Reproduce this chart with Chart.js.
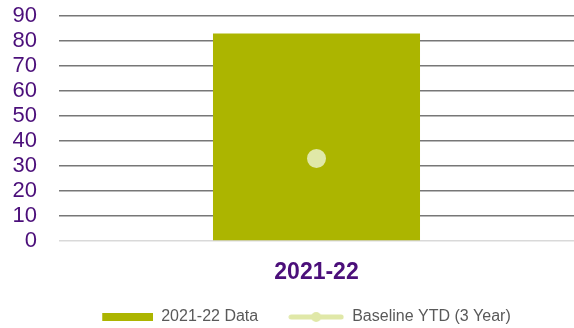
<!DOCTYPE html>
<html><head><meta charset="utf-8">
<script src="https://cdn.jsdelivr.net/npm/chart.js@4/dist/chart.umd.min.js"></script>
<style>html,body{margin:0;padding:0;background:#fff}#wrap{width:574px;height:328px}</style>
</head><body><div id="wrap"><canvas id="c" width="574" height="328"></canvas></div>
<script>
const categories = ["2021-22"];
const dataValues = [83];
const baselineValues = [33];
const yTicks = [0,10,20,30,40,50,60,70,80,90];

function mkBox(){const c=document.createElement('canvas');c.width=56;c.height=10;const x=c.getContext('2d');x.fillStyle='#acb500';x.fillRect(5,1,51,8);return c;}
function mkLine(){const c=document.createElement('canvas');c.width=56;c.height=12;const x=c.getContext('2d');x.strokeStyle='#e0e8a8';x.lineWidth=5;x.lineCap='round';x.beginPath();x.moveTo(3,6);x.lineTo(53,6);x.stroke();x.fillStyle='#e0e8a8';x.beginPath();x.arc(28,6,5,0,Math.PI*2);x.fill();return c;}
const boxImg=mkBox(), lineImg=mkLine();

const legendShift={id:'legendShift',afterLayout(chart){const l=chart.legend;if(l){l.left+=17;l.right+=17;}}};

new Chart(document.getElementById('c'),{
  data:{labels:categories,datasets:[
    {type:'line',label:'Baseline YTD (3 Year)',data:baselineValues,borderColor:'#e0e8a8',backgroundColor:'#e0e8a8',pointRadius:7.5,pointHoverRadius:7.5,borderWidth:4,order:0},
    {type:'bar',label:'2021-22 Data',data:dataValues,backgroundColor:'#acb500',barPercentage:0.804,categoryPercentage:0.5,order:1}
  ]},
  plugins:[legendShift],
  options:{responsive:false,animation:false,
    layout:{autoPadding:false,padding:{left:0,right:0,top:16,bottom:-7}},
    plugins:{tooltip:{enabled:false},
      legend:{position:'bottom',labels:{usePointStyle:true,pointStyleWidth:56,font:{family:'Liberation Sans, Arial',size:16},color:'#595959',padding:30,
        generateLabels:(ch)=>[
          {text:'2021-22 Data',pointStyle:boxImg,datasetIndex:1,fontColor:'#595959',lineWidth:0,strokeStyle:'transparent',fillStyle:'#acb500'},
          {text:'Baseline YTD (3 Year)',pointStyle:lineImg,datasetIndex:0,fontColor:'#595959',lineWidth:0,strokeStyle:'transparent',fillStyle:'#e0e8a8'}
        ]}}},
    scales:{
      x:{grid:{display:false,drawTicks:false},border:{display:false},
        afterFit:(a)=>{a.height=38;a.paddingLeft=0;a.paddingRight=0;},
        ticks:{color:'#4b0f7a',font:{family:'Liberation Sans, Arial',size:23,weight:'bold'},padding:18}},
      y:{min:0,max:90,afterBuildTicks:(a)=>{a.ticks=yTicks.map(v=>({value:v}));},
        afterFit:(a)=>{a.width=59;a.paddingTop=0;a.paddingBottom=0;},
        border:{display:false},
        grid:{color:(ctx)=>ctx.tick&&ctx.tick.value===0?'#d9d9d9':'#777777',lineWidth:1.5,drawTicks:false},
        ticks:{autoSkip:false,color:'#4b0f7a',font:{family:'Liberation Sans, Arial',size:22},padding:22}}
    }
  }
});
</script></body></html>
